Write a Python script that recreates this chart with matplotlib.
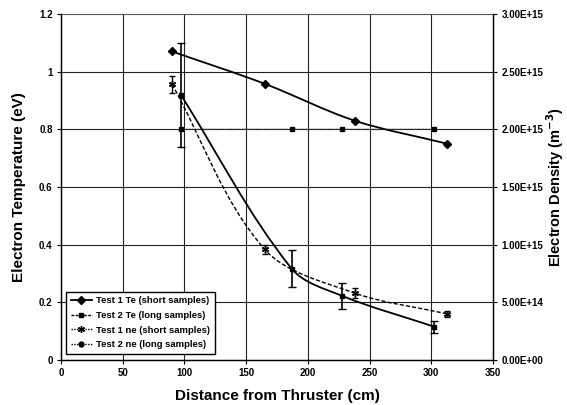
import numpy as np
import matplotlib
matplotlib.use("Agg")
import matplotlib.pyplot as plt
from matplotlib.path import Path
from matplotlib.patches import PathPatch
from matplotlib.lines import Line2D
from matplotlib.ticker import FuncFormatter

plt.rcParams['font.family'] = ['Liberation Sans', 'DejaVu Sans']

# ---- data ----
x_test1 = [90, 165, 238, 313]
x_test2 = [97, 187, 228, 302]
te_test1 = [1.07, 0.958, 0.83, 0.75]
te_test2 = [0.80, 0.80, 0.80, 0.80]
ne_test1 = [2.39e15, 9.6e14, 5.8e14, 4.0e14]
ne_test1_err = [7.5e13, 3.7e13, 4.0e13, 2.5e13]
ne_test2 = [2.30e15, 7.9e14, 5.55e14, 2.9e14]
ne_test2_err = [4.5e14, 1.6e14, 1.1e14, 5.2e13]

x_ticks = [0, 50, 100, 150, 200, 250, 300, 350]
te_ticks = [0, 0.2, 0.4, 0.6, 0.8, 1.0, 1.2]
ne_ticks = [0, 5e14, 1e15, 1.5e15, 2e15, 2.5e15, 3e15]


def smooth_path(xs, ys, xspan, yspan):
    """Smooth Bezier curve through the data points (chord-length tangents)."""
    p = np.column_stack([xs, ys]).astype(float)
    s = np.array([1.0 / xspan, 1.0 / yspan])
    q = p * s  # normalised coordinates
    n = len(q)
    tang = []
    for i in range(n):
        a = q[i - 1] if i > 0 else q[i]
        b = q[i + 1] if i + 1 < n else q[i]
        d = b - a
        tang.append(d / np.linalg.norm(d))
    verts = [p[0]]
    codes = [Path.MOVETO]
    for i in range(n - 1):
        L = np.linalg.norm(q[i + 1] - q[i]) / 3.0
        c1 = (q[i] + tang[i] * L) / s
        c2 = (q[i + 1] - tang[i + 1] * L) / s
        verts += [c1, c2, p[i + 1]]
        codes += [Path.CURVE4] * 3
    return Path(verts, codes)


fig = plt.figure(figsize=(5.67, 4.05), dpi=100)
ax = fig.add_axes([61 / 567, 1 - 360 / 405, 432 / 567, 346 / 405])
ax2 = ax.twinx()

ax.set_xlim(0, 350)
ax.set_ylim(0, 1.2)
ax2.set_ylim(0, 3e15)

# grid
for v in x_ticks[1:-1]:
    ax.axvline(v, color='#222222', lw=0.8, zorder=0)
for v in te_ticks[1:-1]:
    ax.axhline(v, color='#222222', lw=0.8, zorder=0)

ax.set_xticks(x_ticks)
ax.set_yticks(te_ticks)
ax.set_yticklabels(['0', '0.2', '0.4', '0.6', '0.8', '1', '1.2'])
ax2.set_yticks(ne_ticks)
ax2.yaxis.set_major_formatter(FuncFormatter(lambda v, p: '%.2E' % v))

for a in (ax, ax2):
    a.tick_params(labelsize=7, length=3, width=0.8, direction='out', pad=3)
    for lab in a.get_xticklabels() + a.get_yticklabels():
        lab.set_fontweight('bold')

for s_ in ('left', 'bottom'):
    ax.spines[s_].set_linewidth(1.0)
ax2.spines['right'].set_linewidth(1.0)
ax.spines['top'].set_linestyle((0, (1, 1)))
ax.spines['top'].set_color('#555555')
ax2.spines['top'].set_visible(False)

# ---- Test 1 Te ----
ax.add_patch(PathPatch(smooth_path(x_test1, te_test1, 350, 1.2), fill=False,
                       ec='black', lw=1.3, zorder=3))
ax.plot(x_test1, te_test1, ls='none', marker='D', ms=4.5, color='black', zorder=4)

# ---- Test 2 Te ----
ax.add_patch(PathPatch(smooth_path(x_test2, te_test2, 350, 1.2), fill=False,
                       ec='#333333', lw=1.0, ls=(0, (1, 1)), zorder=3))
ax.plot(x_test2, te_test2, ls='none', marker='s', ms=3.5, color='black', zorder=4)

# ---- Test 1 ne ----
ax2.add_patch(PathPatch(smooth_path(x_test1, ne_test1, 350, 3e15), fill=False,
                        ec='black', lw=1.0, ls=(0, (3, 1.5)), zorder=3))
ax2.errorbar(x_test1, ne_test1, yerr=ne_test1_err, fmt='none', ecolor='black',
             elinewidth=1.0, capsize=2.5, capthick=1.0, zorder=4)
ax2.plot(x_test1, ne_test1, ls='none', marker=(6, 2, 0), ms=5, mew=1.0,
         color='black', zorder=4)

# ---- Test 2 ne ----
ax2.add_patch(PathPatch(smooth_path(x_test2, ne_test2, 350, 3e15), fill=False,
                        ec='black', lw=1.3, zorder=3))
ax2.errorbar(x_test2, ne_test2, yerr=ne_test2_err, fmt='none', ecolor='black',
             elinewidth=1.2, capsize=3, capthick=1.0, zorder=4)
ax2.plot(x_test2, ne_test2, ls='none', marker='s', ms=3, color='black', zorder=4)

# labels
ax.set_xlabel('Distance from Thruster (cm)', fontsize=11, fontweight='bold', labelpad=8)
ax.set_ylabel('Electron Temperature (eV)', fontsize=11, fontweight='bold')
ax.yaxis.set_label_coords(-35 / 432, 0.5)
ax2.set_ylabel('Electron Density (m$^{\\mathbf{-3}}$)', fontsize=10.5,
               fontweight='bold')
ax2.yaxis.set_label_coords(1 + 51 / 432, 0.5)

# legend
handles = [
    Line2D([], [], color='black', lw=1.3, marker='D', ms=4),
    Line2D([], [], color='black', lw=1.0, ls=(0, (2, 1)), marker='s', ms=3.5),
    Line2D([], [], color='black', lw=1.0, ls=(0, (1, 1)), marker=(6, 2, 0), ms=5),
    Line2D([], [], color='black', lw=1.0, ls=(0, (1, 1)), marker='o', ms=3.5),
]
labels = ['Test 1 Te (short samples)', 'Test 2 Te (long samples)',
          'Test 1 ne (short samples)', 'Test 2 ne (long samples)']
leg = ax2.legend(handles, labels, loc='lower left',
                 bbox_to_anchor=(5 / 432, 6 / 346), borderaxespad=0,
                 prop={'size': 6.8, 'weight': 'bold'}, fancybox=False,
                 edgecolor='black', framealpha=1, handlelength=2.2,
                 labelspacing=0.6, borderpad=0.5, handletextpad=0.5)
leg.get_frame().set_linewidth(1.0)
leg.set_zorder(10)

fig.savefig('out.png', dpi=100)
